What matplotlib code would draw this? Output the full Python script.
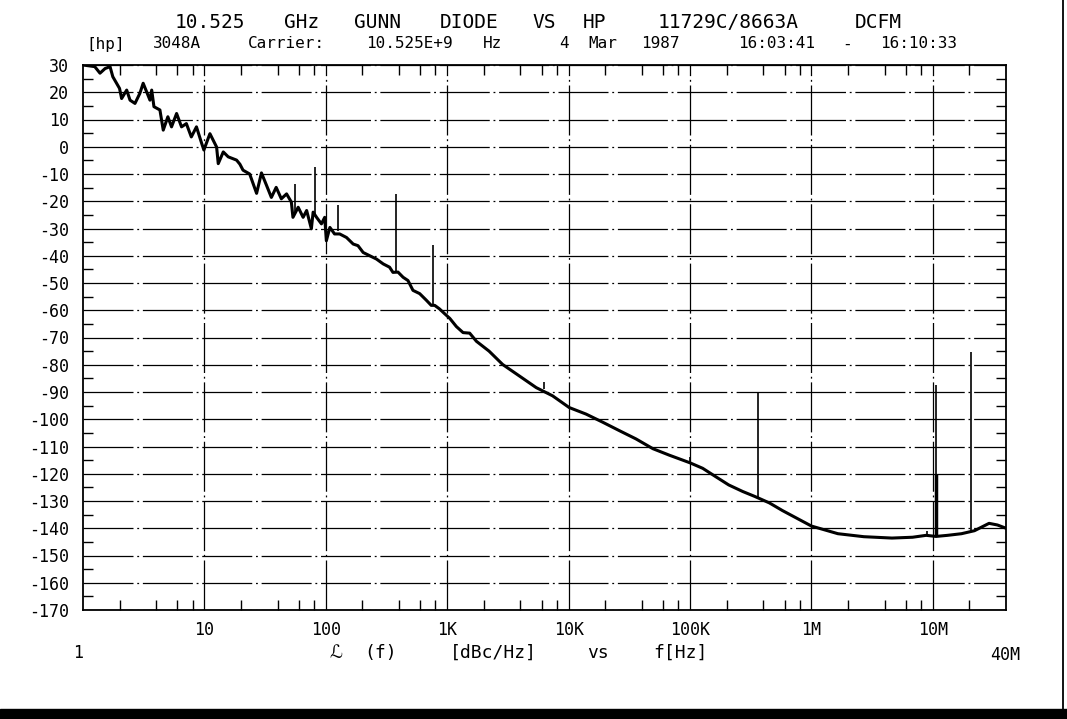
import matplotlib
matplotlib.use("Agg")  # headless
import matplotlib.pyplot as plt
from matplotlib.lines import Line2D
from matplotlib.patches import Rectangle
from matplotlib.ticker import NullFormatter

W, H = 1067, 719

plt.rcParams["font.family"] = ["DejaVu Sans Mono", "DejaVu Sans"]

# ----------------------------
# Text
# ----------------------------
TITLE = "10.525 GHz GUNN DIODE VS HP 11729C/8663A DCFM"
SUBTITLE = "[hp] 3048A  Carrier: 10.525E+9 Hz    4 Mar 1987   16:03:41 - 16:10:33"
XLABEL = "ℒ (f)  [dBc/Hz]  vs  f[Hz]"
X_START_LABEL = "1"
X_STOP_LABEL = "40M"

decade_ticks = [10, 100, 1e3, 1e4, 1e5, 1e6, 1e7]
decade_labels = ["10", "100", "1K", "10K", "100K", "1M", "10M"]
db_ticks = [30, 20, 10, 0, -10, -20, -30, -40, -50, -60, -70, -80, -90,
            -100, -110, -120, -130, -140, -150, -160, -170]

# ----------------------------
# Measured single-sideband phase noise (read off the plot)
# ----------------------------
freq_hz = [
    1.0, 1.25, 1.38, 1.52, 1.67, 1.76, 2.0, 2.08, 2.29, 2.44,
    2.68, 2.94, 3.13, 3.34, 3.56, 3.68, 3.84, 4.3, 4.58, 5.0,
    5.36, 5.9, 6.48, 7.1, 7.8, 8.6, 9.5, 9.9, 11.1, 12.6,
    13.0, 14.3, 15.7, 18.4, 19.6, 20.8, 23.6, 26.9, 29.5, 32.5,
    35.6, 39.0, 43.0, 47.5, 52.0, 53.6, 59.2, 65.0, 69.5,
    76.0, 78.6, 83.9, 92.0, 97.9, 101, 108,
    118, 130, 148, 168, 184, 203, 230,
    261, 297, 335, 357, 393, 433, 475,
    522, 593, 672, 738, 788, 863, 948,
    1050, 1190, 1350, 1530, 1740, 2210, 2860, 3950, 5410,
    7370, 10100, 13900, 19100, 26200, 35800, 49400, 67600,
    87000, 100000, 127000, 163000, 208000, 271000, 340000,
    450000, 576000, 1.0e6, 1.65e6, 2.7e6, 4.6e6, 6.8e6, 8.8e6,
    10.6e6, 13.2e6, 17.2e6, 22e6, 29e6, 34e6, 40e6,
]
level_dbc = [
    30.0, 29.4, 27.0, 28.7, 29.4, 25.7, 21.4, 17.7, 20.8, 17.1,
    15.9, 19.6, 23.3, 20.2, 17.1, 20.8, 14.7, 13.5, 6.1, 11.0,
    7.3, 12.2, 7.3, 8.5, 3.6, 7.3, 1.2, -1.2, 4.8, -0.1,
    -6.2, -1.9, -3.7, -4.9, -6.4, -8.6, -10.0, -17.1, -9.6, -14.2,
    -18.6, -14.9, -19.1, -17.3, -20.3, -25.9, -22.2, -25.9, -23.4,
    -30.1, -24.0, -25.9, -28.3, -25.9, -34.5, -29.6,
    -32.0, -32.0, -33.3, -35.7, -36.3, -38.8, -40.0,
    -41.2, -43.0, -44.2, -46.1, -46.0, -47.9, -49.1,
    -52.7, -53.9, -56.3, -58.2, -58.2, -59.5, -61.2,
    -63.0, -66.0, -68.2, -68.4, -71.4, -75.0, -79.9, -84.2, -88.4,
    -91.4, -95.7, -98.1, -101.1, -104.2, -107.2, -110.8, -113.2,
    -115.0, -116.0, -118.0, -121.1, -124.1, -126.5, -128.3,
    -130.7, -133.5, -139.2, -142.0, -143.1, -143.6, -143.3, -142.6,
    -143.0, -142.6, -142.0, -140.9, -138.2, -138.8, -140.0,
]

# discrete spurs: frequency, floor under the spur, spur peak
spur_hz = [55.5, 81.1, 125, 381, 762, 6220, 100000, 361000, 9.0e6, 10.6e6, 20.6e6]
spur_floor_dbc = [-24.0, -25.0, -31.0, -45.8, -58.0, -88.8, -116.0, -128.5, -142.8, -143.0, -141.5]
spur_peak_dbc = [-13.6, -7.5, -21.5, -17.3, -36.1, -86.5, -113.8, -90.3, -141.0, -87.5, -75.5]

# the 10.6 MHz spur has a dense lower part
cluster_hz = [10.55e6]
cluster_floor_dbc = [-143.0]
cluster_peak_dbc = [-120.0]


def plotter_text(fig, s, x0, y, pitch, **kw):
    """HP plotter writes on a fixed character pitch: put each word on that grid."""
    i = 0
    for word in s.split(" "):
        if word:
            xc = x0 + (i + len(word) / 2) * pitch
            fig.text(xc / W, 1 - y / H, word, ha="center", va="center", **kw)
        i += len(word) + 1


fig = plt.figure(figsize=(W / 100, H / 100), dpi=100)
ax = fig.add_axes([83 / W, 1 - 610 / H, (1006 - 83) / W, (610 - 65) / H])

ax.plot(freq_hz, level_dbc, color="black", lw=2.2, solid_joinstyle="round")
ax.vlines(spur_hz, spur_floor_dbc, spur_peak_dbc, color="black", lw=1.2)
ax.vlines(cluster_hz, cluster_floor_dbc, cluster_peak_dbc, color="black", lw=2.5)

ax.set_xscale("log")
ax.set_xlim(1, 40e6)
ax.set_ylim(-170, 30)

# decades with labels, 2/4/6/8 minor ticks pointing in
ax.set_xticks(decade_ticks, labels=decade_labels)
minor_x = [m * 10 ** k for k in range(8) for m in (2, 4, 6, 8) if m * 10 ** k < 40e6]
ax.set_xticks(minor_x, minor=True)
ax.xaxis.set_minor_formatter(NullFormatter())
ax.set_yticks(db_ticks, labels=[str(v) for v in db_ticks])
ax.set_yticks([v - 5 for v in db_ticks[:-1]], minor=True)

ax.tick_params(axis="x", which="major", length=0, pad=8, labelsize=12)
ax.tick_params(axis="y", which="major", length=0, pad=10, labelsize=12)
ax.tick_params(which="minor", direction="in", length=7, width=1.0,
               top=True, bottom=True, left=True, right=True)

ax.grid(which="major", color="black", lw=0.9, ls=(0, (40, 3, 1.5, 3)))
for sp in ax.spines.values():
    sp.set_linewidth(1.3)

plotter_text(fig, TITLE, 160, 22, 16.7, fontsize=14)
plotter_text(fig, SUBTITLE, 80, 44, 12.9, fontsize=11.5)
plotter_text(fig, XLABEL, 328, 653, 15, fontsize=13)
fig.text(78 / W, 1 - 653 / H, X_START_LABEL, ha="center", va="center", fontsize=12)
fig.text(1005 / W, 1 - 655 / H, X_STOP_LABEL, ha="center", va="center", fontsize=12)

# page edge of the plotter sheet
fig.add_artist(Line2D([1063 / W, 1063 / W], [10 / H, 1.0], color="black", lw=1.3,
                      transform=fig.transFigure))
fig.add_artist(Rectangle((0, 0), 1, 10 / H, color="black", transform=fig.transFigure))

fig.savefig("out.png", dpi=100)
